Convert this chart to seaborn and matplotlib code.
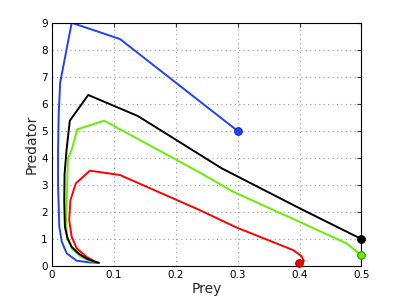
import matplotlib
matplotlib.use("Agg")
import matplotlib.pyplot as plt
import seaborn as sns
import pandas as pd

# Trajectories (prey, predator), from starting point (marker) to the end
blue_prey = [0.300, 0.110, 0.032, 0.0134, 0.011, 0.010, 0.010, 0.012, 0.016, 0.024, 0.040, 0.060, 0.075]
blue_pred = [5.00, 8.40, 9.00, 6.79, 5.60, 4.30, 3.00, 1.46, 0.90, 0.47, 0.20, 0.14, 0.12]

black_prey = [0.500, 0.400, 0.274, 0.139, 0.0587, 0.029, 0.0237, 0.0205, 0.020, 0.021, 0.025, 0.032, 0.044, 0.056, 0.068, 0.076]
black_pred = [1.00, 2.14, 3.62, 5.55, 6.33, 5.38, 4.30, 3.40, 2.40, 1.46, 1.05, 0.71, 0.45, 0.28, 0.17, 0.12]

green_prey = [0.500, 0.476, 0.400, 0.293, 0.239, 0.0845, 0.041, 0.032, 0.026, 0.024, 0.023, 0.025, 0.033, 0.046, 0.060, 0.076]
green_pred = [0.40, 0.84, 1.64, 2.75, 3.46, 5.38, 5.06, 4.30, 3.99, 2.44, 1.50, 1.00, 0.62, 0.36, 0.20, 0.12]

red_prey = [0.3995, 0.407, 0.403, 0.390, 0.298, 0.239, 0.110, 0.0613, 0.0387, 0.030, 0.028, 0.032, 0.040, 0.056, 0.068, 0.075]
red_pred = [0.10, 0.19, 0.37, 0.59, 1.43, 2.07, 3.37, 3.53, 3.06, 2.44, 1.70, 1.09, 0.66, 0.34, 0.19, 0.12]

x_ticks = [0, 0.1, 0.2, 0.3, 0.4, 0.5]
x_tick_labels = ["0", "0.1", "0.2", "0.3", "0.4", "0.5"]
y_ticks = list(range(0, 10))

series = [
    ("blue", blue_prey, blue_pred, "#2040ff", "#1a2fa0"),
    ("red", red_prey, red_pred, "#ff0000", "#a00000"),
    ("green", green_prey, green_pred, "#66ee00", "#3a8a00"),
    ("black", black_prey, black_pred, "#000000", "#000000"),
]

sns.set_style("white")
plt.rcParams['font.family'] = ['DejaVu Sans']

fig = plt.figure(figsize=(3.99, 3.0), dpi=100)
ax = fig.add_axes([0.130, 0.113, 0.776, 0.811])

for name, xs, ys, col, edge in series:
    df = pd.DataFrame({"Prey": xs, "Predator": ys, "order": range(len(xs))})
    sns.lineplot(data=df, x="Prey", y="Predator", sort=False, estimator=None,
                 color=col, linewidth=1.4, ax=ax)
for name, xs, ys, col, edge in series:
    sns.scatterplot(x=[xs[0]], y=[ys[0]], color=col, edgecolor=edge, s=30,
                    linewidth=0.8, ax=ax, zorder=5, clip_on=False)

ax.set_xlim(0, 0.5)
ax.set_ylim(0, 9)
ax.set_xticks(x_ticks)
ax.set_xticklabels(x_tick_labels)
ax.set_yticks(y_ticks)
ax.grid(True, linestyle=(0, (1, 3)), color="#999999", linewidth=0.8)
ax.tick_params(direction="in", length=3, labelsize=7.5, top=True, right=True,
               colors="#333333", labelcolor="black", pad=3)
for sp in ax.spines.values():
    sp.set_visible(True)
    sp.set_color("black")
    sp.set_linewidth(0.8)
ax.set_xlabel("Prey", fontsize=10, labelpad=1)
ax.set_ylabel("Predator", fontsize=10, labelpad=2)

fig.savefig("out.png", dpi=100)
